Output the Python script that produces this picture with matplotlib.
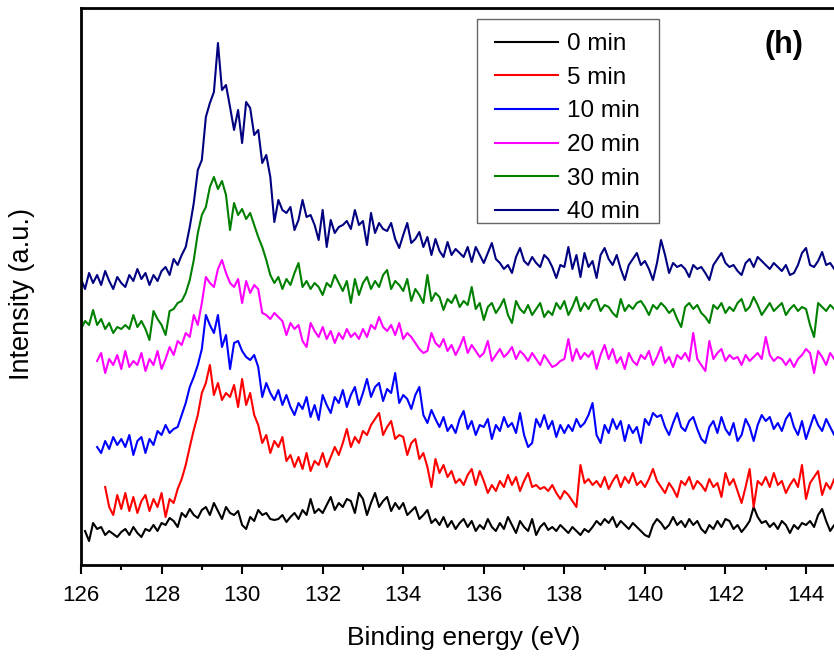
import numpy as np
import matplotlib
matplotlib.use('Agg')
import matplotlib.pyplot as plt
from matplotlib.patches import Rectangle
from matplotlib.ticker import MultipleLocator

plt.rcParams['font.family'] = ['Liberation Sans', 'DejaVu Sans']

# Спектры (смещены по вертикали), шаг по энергии 0.1 эВ
step = 0.1
labels = ['0 min', '5 min', '10 min', '20 min', '30 min', '40 min']
colors = ['black', 'red', 'blue', 'magenta', 'green', 'navy']
e_start = [126.1, 126.6, 126.4, 126.4, 126.0, 126.0]

i_0min = [
    34, 24, 42, 36, 38, 30, 34, 31, 28,
    33, 36, 30, 38, 32, 28, 36, 34, 40, 34,
    42, 40, 47, 44, 38, 52, 48, 56, 50, 47,
    55, 58, 50, 62, 54, 46, 58, 52, 50, 54,
    40, 36, 48, 44, 55, 50, 52, 46, 45, 46,
    50, 43, 48, 52, 46, 55, 50, 66, 52, 56,
    52, 60, 68, 55, 62, 58, 66, 64, 52, 72,
    66, 50, 62, 72, 58, 64, 68, 54, 62, 56,
    62, 50, 54, 58, 46, 50, 55, 42, 46, 40,
    48, 38, 44, 36, 42, 46, 38, 44, 34, 40,
    36, 46, 38, 34, 42, 36, 48, 40, 32, 44,
    38, 34, 46, 30, 38, 42, 35, 38, 34, 40,
    36, 32, 38, 34, 30, 36, 33, 38, 44, 40,
    46, 42, 48, 38, 44, 40, 36, 42, 38, 34,
    30, 28, 40, 46, 42, 36, 40, 48, 40, 44,
    38, 46, 40, 44, 36, 32, 40, 36, 44, 38,
    46, 44, 36, 40, 33, 38, 44, 58, 48, 42,
    44, 38, 42, 36, 44, 40, 32, 40, 36, 42,
    40, 44, 38, 50, 56, 44, 34, 40, 36, 32,
    36,
]

i_5min = [
    78, 58, 50, 70,
    56, 72, 54, 68, 52, 64, 70, 54, 66, 58,
    72, 48, 66, 62, 76, 86, 100, 118, 135, 150,
    172, 182, 200, 170, 182, 165, 172, 168, 180, 158,
    186, 160, 172, 150, 140, 122, 130, 112, 124, 118,
    128, 104, 110, 98, 108, 96, 112, 94, 104, 100,
    112, 98, 108, 118, 110, 122, 136, 118, 128, 122,
    134, 130, 140, 146, 152, 130, 138, 144, 126, 130,
    128, 110, 122, 126, 106, 112, 98, 78, 106, 92,
    100, 88, 94, 82, 86, 80, 90, 96, 80, 94,
    84, 72, 80, 74, 84, 78, 90, 80, 88, 74,
    84, 92, 78, 80, 76, 78, 74, 80, 72, 66,
    74, 70, 64, 58, 100, 82, 86, 80, 84, 78,
    88, 76, 84, 90, 78, 88, 82, 92, 80, 84,
    78, 86, 96, 84, 78, 72, 82, 76, 68, 84,
    80, 88, 76, 84, 80, 74, 86, 78, 82, 68,
    92, 80, 86, 74, 62, 78, 96, 58, 84, 80,
    88, 78, 92, 80, 84, 72, 80, 86, 78, 100,
    66, 82, 88, 94, 70, 82, 76, 86, 64, 78,
    86,
]

i_10min = [
    118, 112, 124, 116, 128, 120,
    126, 118, 130, 110, 124, 128, 112, 126, 120, 134,
    130, 140, 132, 136, 138, 150, 162, 178, 188, 200,
    216, 250, 240, 232, 250, 218, 230, 196, 222, 224,
    214, 208, 205, 210, 198, 168, 182, 172, 165, 175,
    160, 170, 158, 150, 162, 156, 168, 148, 160, 145,
    170, 160, 152, 168, 162, 175, 158, 170, 178, 160,
    172, 186, 168, 178, 182, 164, 176, 172, 192, 162,
    170, 166, 156, 170, 178, 150, 142, 155, 146, 138,
    148, 134, 140, 132, 146, 154, 136, 144, 130, 140,
    138, 146, 126, 140, 134, 148, 138, 142, 132, 152,
    130, 118, 122, 146, 138, 150, 136, 144, 128, 140,
    132, 140, 134, 146, 138, 142, 150, 162, 130, 122,
    140, 132, 146, 136, 144, 124, 140, 132, 138, 122,
    146, 140, 152, 148, 150, 138, 130, 142, 152, 138,
    134, 144, 148, 136, 126, 122, 138, 144, 132, 148,
    136, 130, 142, 124, 130, 146, 138, 124, 140, 150,
    144, 148, 136, 142, 134, 146, 152, 138, 130, 144,
    126, 138, 150, 140, 134, 146, 138, 130, 150, 142,
    156,
]

i_20min = [
    204, 212, 192, 206, 200, 210,
    196, 214, 198, 204, 200, 212, 194, 206, 200, 214,
    196, 206, 218, 210, 224, 220, 232, 228, 250, 240,
    262, 288, 282, 278, 296, 305, 292, 282, 278, 286,
    262, 284, 272, 280, 276, 252, 250, 246, 252, 248,
    244, 230, 242, 236, 240, 224, 218, 242, 234, 228,
    238, 226, 234, 222, 232, 226, 236, 228, 232, 226,
    236, 228, 240, 236, 248, 238, 234, 240, 230, 242,
    226, 232, 228, 222, 216, 212, 214, 232, 222, 218,
    226, 214, 220, 210, 218, 228, 212, 220, 214, 208,
    212, 224, 204, 210, 216, 208, 212, 218, 206, 214,
    210, 204, 212, 206, 200, 210, 204, 198, 200, 204,
    206, 226, 204, 216, 206, 212, 208, 214, 196, 210,
    220, 206, 216, 202, 208, 196, 212, 204, 200, 210,
    206, 214, 200, 208, 218, 202, 208, 198, 210, 206,
    212, 204, 232, 206, 200, 194, 224, 206, 212, 216,
    204, 210, 206, 208, 200, 210, 204, 208, 212, 206,
    228, 210, 204, 208, 206, 200, 206, 198, 206, 210,
    216, 212, 192, 214, 208, 200, 212, 206, 202, 198,
    196,
]

i_30min = [
    236, 244, 240, 255, 240, 246, 236, 242, 232, 238,
    236, 240, 236, 250, 238, 244, 236, 225, 254, 246,
    240, 230, 254, 256, 262, 264, 272, 285, 305, 332,
    350, 358, 378, 388, 376, 384, 370, 335, 362, 350,
    356, 346, 352, 340, 328, 318, 305, 290, 282, 288,
    276, 286, 280, 292, 302, 278, 284, 276, 282, 278,
    270, 282, 278, 290, 282, 274, 284, 262, 286, 270,
    282, 288, 276, 284, 278, 290, 295, 276, 284, 280,
    274, 286, 264, 276, 270, 262, 290, 264, 272, 268,
    255, 266, 262, 270, 258, 264, 260, 278, 256, 262,
    245, 258, 262, 252, 258, 266, 250, 242, 264, 256,
    252, 260, 250, 256, 262, 248, 254, 250, 262, 256,
    264, 250, 258, 268, 254, 262, 256, 264, 266, 254,
    260, 258, 252, 248, 266, 254, 260, 256, 262, 264,
    258, 250, 260, 256, 262, 258, 252, 256, 246, 238,
    258, 262, 256, 260, 252, 248, 242, 260, 256, 262,
    252, 258, 254, 262, 266, 254, 258, 268, 260, 250,
    256, 262, 254, 258, 262, 250, 256, 260, 254, 258,
    256, 240, 228, 262, 258, 254, 260, 256, 250, 248,
    245,
]

i_40min = [
    286, 276, 292, 282, 290, 280, 294, 284, 276, 288,
    282, 278, 290, 284, 296, 286, 292, 280, 290, 284,
    294, 298, 290, 306, 300, 310, 318, 338, 362, 395,
    405, 448, 462, 473, 522, 475, 480, 458, 435, 455,
    422, 463, 457, 430, 435, 402, 410, 388, 343, 365,
    355, 352, 358, 335, 345, 365, 348, 350, 340, 325,
    355, 318, 345, 332, 338, 340, 344, 336, 355, 340,
    344, 320, 352, 332, 342, 336, 334, 342, 326, 317,
    330, 342, 322, 326, 333, 318, 328, 310, 326, 314,
    308, 323, 310, 316, 312, 308, 318, 303, 318, 310,
    302, 312, 322, 306, 302, 296, 300, 292, 308, 317,
    304, 300, 308, 302, 298, 310, 306, 298, 287, 300,
    298, 318, 296, 310, 288, 312, 298, 304, 287, 310,
    317, 306, 300, 310, 296, 285, 300, 306, 312, 300,
    304, 296, 285, 302, 325, 310, 292, 302, 298, 300,
    296, 288, 300, 296, 298, 292, 285, 300, 306, 312,
    302, 298, 300, 294, 290, 302, 306, 298, 308, 304,
    300, 296, 302, 298, 294, 300, 290, 292, 300, 312,
    317, 300, 298, 304, 313, 300, 302, 296, 304, 302,
    302,
]

spectra = [i_0min, i_5min, i_10min, i_20min, i_30min, i_40min]


def plot_spectra():
    fig = plt.figure(figsize=(8.34, 6.57), dpi=100)
    # ось шире рисунка справа: правая рамка уходит за край
    ax = fig.add_axes([81 / 834, 92 / 657, 765.3 / 834, 557 / 657])

    for start, values, color, label in zip(e_start, spectra, colors, labels):
        y = np.array(values, dtype=float)
        x = start + step * np.arange(len(y))
        ax.plot(x, y, color=color, lw=1.5, label=label)

    ax.set_xlim(126, 145)
    ax.set_ylim(0, 557)
    ax.set_xticks(np.arange(126, 145, 2))
    ax.xaxis.set_minor_locator(MultipleLocator(1))
    ax.set_yticks([])
    ax.tick_params(axis='x', which='major', direction='out', length=6.5, width=1.5,
                   labelsize=16, pad=8)
    ax.tick_params(axis='x', which='minor', direction='out', length=3.5, width=1.5)
    for spine in ax.spines.values():
        spine.set_linewidth(2)

    ax.set_xlabel('Binding energy (eV)', fontsize=19, labelpad=14)
    ax.set_ylabel('Intensity (a.u.)', fontsize=19.5)
    ax.yaxis.set_label_coords(-0.060, 0.487)

    # легенда без рамки + отдельная серая рамка вокруг неё
    ax.legend(loc='upper left', bbox_to_anchor=(0.541, 0.955), borderaxespad=0,
              borderpad=0, fontsize=17.5, handlelength=2.6, handletextpad=0.35,
              labelspacing=0.48, frameon=False)
    ax.add_patch(Rectangle((0.5175, 0.614), 0.2378, 0.366, transform=ax.transAxes,
                           facecolor='none', edgecolor='#666666', lw=1.0, zorder=5))

    ax.text(0.918, 0.934, '(h)', transform=ax.transAxes, fontsize=22, fontweight='bold',
            ha='center', va='center')

    fig.savefig('out.png', dpi=100)


if __name__ == '__main__':
    plot_spectra()
